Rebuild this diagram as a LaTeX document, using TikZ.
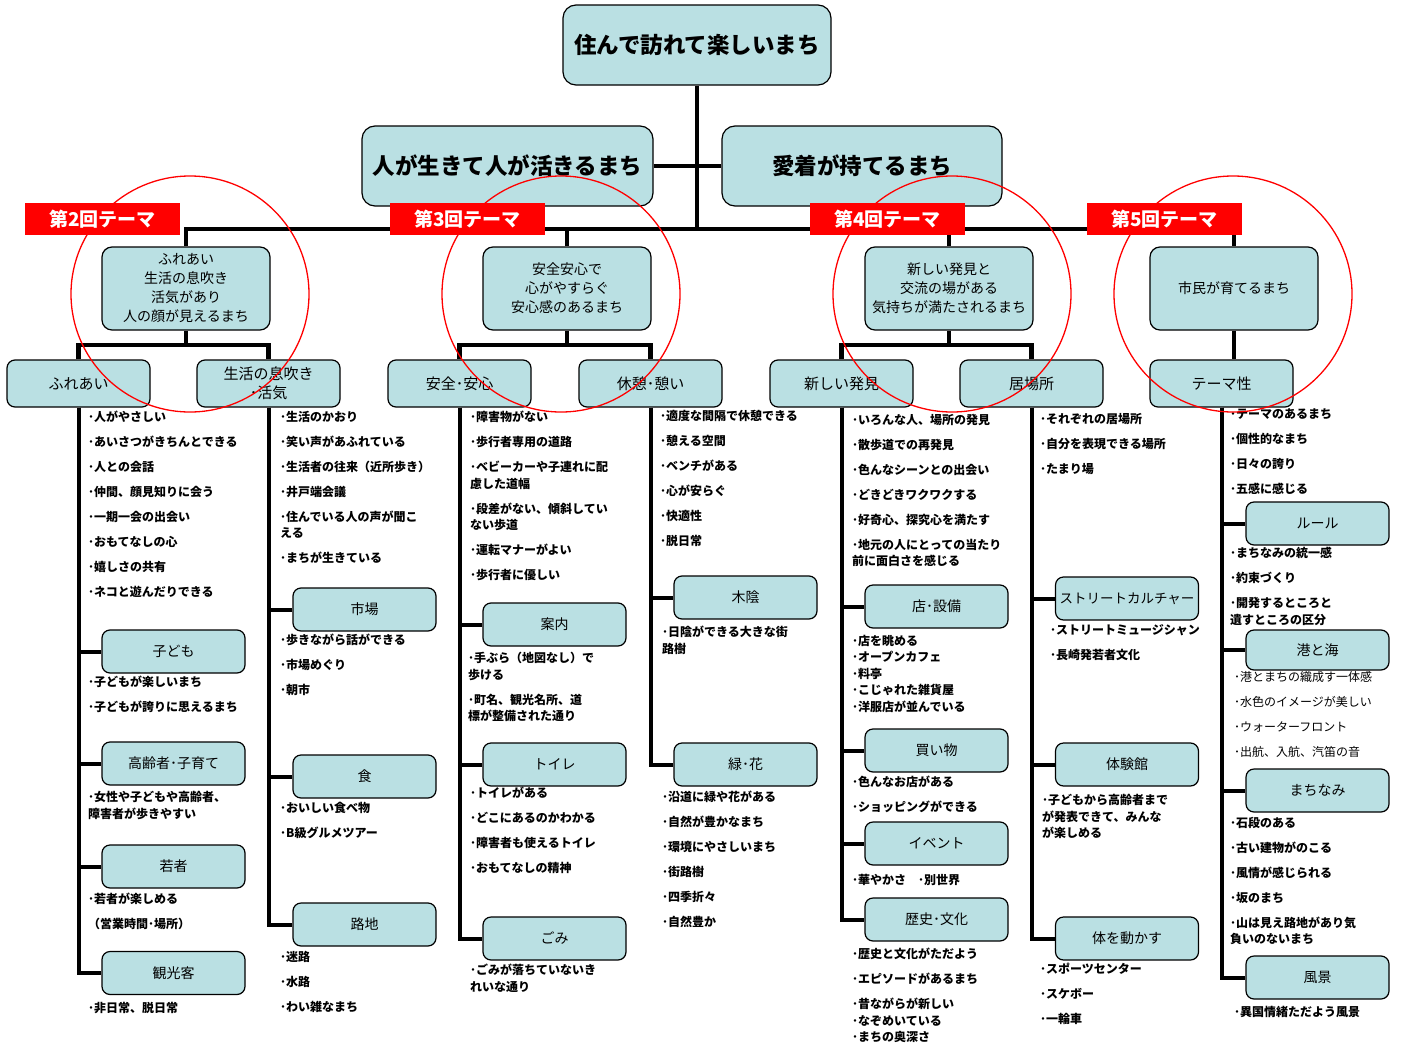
\documentclass[tikz,border=0pt]{standalone}
\usepackage{fontspec}
\setmainfont{Noto Sans CJK JP}
\definecolor{boxblue}{RGB}{186,224,227}
\definecolor{themered}{RGB}{255,0,0}
\tikzset{
  elbow/.style={to path={|- (\tikztotarget)}},
  subbox/.style={draw,fill=boxblue,rounded corners=8pt,line width=1.2pt,
    minimum width=143pt,minimum height=43pt,inner sep=1pt,font=\fontsize{14}{17}\selectfont},
  notes/.style={anchor=north west,align=left,inner sep=0pt,
    font=\bfseries\fontsize{12}{16.5}\selectfont},
  ring/.style={draw=themered,line width=1.3pt}
}
\begin{document}
\begin{tikzpicture}[x=1pt,y=-1pt]
  \useasboundingbox (0,0) rectangle (1403,1044);

  \begin{scope}[every node/.style={draw,fill=boxblue,rounded corners=13pt,line width=1.2pt,
      minimum height=80pt,inner sep=2pt,font=\bfseries\fontsize{22.5}{26}\selectfont}]
    \node[minimum width=268pt] (root)  at (697,45)    {住んで訪れて楽しいまち};
    \node[minimum width=291pt] (left)  at (507.5,166) {人が生きて人が活きるまち};
    \node[minimum width=280pt] (right) at (862,166)   {愛着が持てるまち};
  \end{scope}

  \begin{scope}[every node/.style={draw,fill=boxblue,rounded corners=10pt,line width=1.2pt,
      minimum width=168pt,minimum height=83pt,align=center,font=\fontsize{14}{19}\selectfont}]
    \node (th2) at (186,288.5)  {ふれあい\\生活の息吹き\\活気があり\\人の顔が見えるまち};
    \node (th3) at (567,288.5)  {安全安心で\\心がやすらぐ\\安心感のあるまち};
    \node (th4) at (949,288.5)  {新しい発見と\\交流の場がある\\気持ちが満たされるまち};
    \node (th5) at (1234,288.5) {市民が育てるまち};
  \end{scope}

  \begin{scope}[every node/.style={draw,fill=boxblue,rounded corners=8pt,line width=1.2pt,
      minimum width=143pt,minimum height=47pt,align=center,inner sep=1pt,
      font=\fontsize{15}{19}\selectfont}]
    \node (c1) at (78.5,383.5)   {ふれあい};
    \node (c2) at (268.5,383.5)  {生活の息吹き\\･活気};
    \node (c3) at (459.5,383.5)  {安全･安心};
    \node (c4) at (650.5,383.5)  {休憩･憩い};
    \node (c5) at (841.5,383.5)  {新しい発見};
    \node (c6) at (1031.5,383.5) {居場所};
    \node (c7) at (1221.5,383.5) {テーマ性};
  \end{scope}

  \begin{scope}[every node/.style={subbox}]
    \node (s11) at (173.5,651.5) {子ども};
    \node (s12) at (173.5,763.5) {高齢者･子育て};
    \node (s13) at (173.5,866.5) {若者};
    \node (s14) at (173.5,973)   {観光客};
    \node (s21) at (364.5,609.5) {市場};
    \node (s22) at (364.5,776.5) {食};
    \node (s23) at (364.5,924.5) {路地};
    \node (s31) at (554.5,624.5) {案内};
    \node (s32) at (554.5,764.5) {トイレ};
    \node (s33) at (554.5,938.5) {ごみ};
    \node (s41) at (745.5,597.5) {木陰};
    \node (s42) at (745.5,764.5) {緑･花};
    \node (s51) at (936.5,606.5) {店･設備};
    \node (s52) at (936.5,750.5) {買い物};
    \node (s53) at (936.5,843.5) {イベント};
    \node (s54) at (936.5,919.5) {歴史･文化};
    \node[font=\fontsize{13.5}{16}\selectfont] (s61) at (1127,598.5) {ストリートカルチャー};
    \node (s62) at (1127,764.5)  {体験館};
    \node (s63) at (1127,938.5)  {体を動かす};
    \node (s71) at (1317.5,523.5) {ルール};
    \node[minimum height=40pt] (s72) at (1317.5,650) {港と海};
    \node (s73) at (1317.5,790.5) {まちなみ};
    \node (s74) at (1317.5,977.5) {風景};
  \end{scope}

  \coordinate (hub) at (697,229);
  \coordinate (j2) at (186,345);
  \coordinate (j3) at (567,345);
  \coordinate (j4) at (949,345);

  \begin{scope}[line width=4.5pt]
    \draw (root) -- (hub);
    \draw (left) -- (right);
    \draw (th2.north) |- (hub) -| (th5.north);
    \draw (th3.north) -- (th3.north |- hub);
    \draw (th4.north) -- (th4.north |- hub);
    \draw (th2) -- (j2);
    \draw (c1.north) |- (j2) -| (c2.north);
    \draw (th3) -- (j3);
    \draw (c3.north) |- (j3) -| (c4.north);
    \draw (th4) -- (j4);
    \draw (c5.north) |- (j4) -| (c6.north);
    \draw (th5) -- (th5 |- c7.north);
  \end{scope}

  \begin{scope}[every edge/.style={draw,line width=4pt,elbow}]
    \path (c1.south) edge (s11.west) edge (s12.west) edge (s13.west) edge (s14.west);
    \path (c2.south) edge (s21.west) edge (s22.west) edge (s23.west);
    \path (c3.south) edge (s31.west) edge (s32.west) edge (s33.west);
    \path (c4.south) edge (s41.west) edge (s42.west);
    \path (c5.south) edge (s51.west) edge (s52.west) edge (s53.west) edge (s54.west);
    \path (c6.south) edge (s61.west) edge (s62.west) edge (s63.west);
    \path (c7.south) edge (s71.west) edge (s72.west) edge (s73.west) edge (s74.west);
  \end{scope}

  \begin{scope}[every node/.style={notes}]
    \node (g11) at (88,411) {･人がやさしい\\[8.5pt]･あいさつがきちんとできる\\[8.5pt]･人との会話\\[8.5pt]･仲間、顔見知りに会う\\[8.5pt]･一期一会の出会い\\[8.5pt]･おもてなしの心\\[8.5pt]･嬉しさの共有\\[8.5pt]･ネコと遊んだりできる};
    \node (g12) at (88,676) {･子どもが楽しいまち\\[8.5pt]･子どもが誇りに思えるまち};
    \node (g13) at (88,791) {･女性や子どもや高齢者、\\障害者が歩きやすい};
    \node (g14) at (88,893) {･若者が楽しめる\\[8.5pt]（営業時間･場所）};
    \node (g15) at (88,1002) {･非日常、脱日常};

    \node (g21) at (280,411) {･生活のかおり\\[8.5pt]･笑い声があふれている\\[8.5pt]･生活者の往来（近所歩き）\\[8.5pt]･井戸端会議\\[8.5pt]･住んでいる人の声が聞こ\\える\\[8.5pt]･まちが生きている};
    \node (g22) at (280,634) {･歩きながら話ができる\\[8.5pt]･市場めぐり\\[8.5pt]･朝市};
    \node (g23) at (280,802) {･おいしい食べ物\\[8.5pt]･B級グルメツアー};
    \node (g24) at (280,951) {･迷路\\[8.5pt]･水路\\[8.5pt]･わい雑なまち};

    \node (g31) at (470,411) {･障害物がない\\[8.5pt]･歩行者専用の道路\\[8.5pt]･ベビーカーや子連れに配\\慮した道幅\\[8.5pt]･段差がない、傾斜してい\\ない歩道\\[8.5pt]･運転マナーがよい\\[8.5pt]･歩行者に優しい};
    \node (g32) at (468,652) {･手ぶら（地図なし）で\\歩ける\\[8.5pt]･町名、観光名所、道\\標が整備された通り};
    \node (g33) at (470,787) {･トイレがある\\[8.5pt]･どこにあるのかわかる\\[8.5pt]･障害者も使えるトイレ\\[8.5pt]･おもてなしの精神};
    \node (g34) at (470,964) {･ごみが落ちていないき\\れいな通り};

    \node (g41) at (660,410) {･適度な間隔で休憩できる\\[8.5pt]･憩える空間\\[8.5pt]･ベンチがある\\[8.5pt]･心が安らぐ\\[8.5pt]･快適性\\[8.5pt]･脱日常};
    \node (g42) at (662,626) {･日陰ができる大きな街\\路樹};
    \node (g43) at (662,791) {･沿道に緑や花がある\\[8.5pt]･自然が豊かなまち\\[8.5pt]･環境にやさしいまち\\[8.5pt]･街路樹\\[8.5pt]･四季折々\\[8.5pt]･自然豊か};

    \node (g51) at (852,414) {･いろんな人、場所の発見\\[8.5pt]･散歩道での再発見\\[8.5pt]･色んなシーンとの出会い\\[8.5pt]･どきどきワクワクする\\[8.5pt]･好奇心、探究心を満たす\\[8.5pt]･地元の人にとっての当たり\\前に面白さを感じる};
    \node (g52) at (852,635) {･店を眺める\\･オープンカフェ\\･料亭\\･こじゃれた雑貨屋\\･洋服店が並んでいる};
    \node (g53) at (852,776) {･色んなお店がある\\[8.5pt]･ショッピングができる};
    \node (g54) at (852,874) {･華やかさ　･別世界};
    \node (g55) at (852,948) {･歴史と文化がただよう\\[8.5pt]･エピソードがあるまち\\[8.5pt]･昔ながらが新しい\\･なぞめいている\\･まちの奥深さ};

    \node (g61) at (1040,413) {･それぞれの居場所\\[8.5pt]･自分を表現できる場所\\[8.5pt]･たまり場};
    \node (g62) at (1050,624) {･ストリートミュージシャン\\[8.5pt]･長崎発若者文化};
    \node (g63) at (1042,794) {･子どもから高齢者まで\\が発表できて、みんな\\が楽しめる};
    \node (g64) at (1040,963) {･スポーツセンター\\[8.5pt]･スケボー\\[8.5pt]･一輪車};

    \node (g71) at (1230,408) {･テーマのあるまち\\[8.5pt]･個性的なまち\\[8.5pt]･日々の誇り\\[8.5pt]･五感に感じる};
    \node (g72) at (1230,547) {･まちなみの統一感\\[8.5pt]･約束づくり\\[8.5pt]･開発するところと\\遺すところの区分};
    \node[font=\fontsize{12}{16.5}\selectfont] (g73) at (1234,671) {･港とまちの織成す一体感\\[8.5pt]･水色のイメージが美しい\\[8.5pt]･ウォーターフロント\\[8.5pt]･出航、入航、汽笛の音};
    \node (g74) at (1230,817) {･石段のある\\[8.5pt]･古い建物がのこる\\[8.5pt]･風情が感じられる\\[8.5pt]･坂のまち\\[8.5pt]･山は見え路地があり気\\負いのないまち};
    \node (g75) at (1234,1006) {･異国情緒ただよう風景};
  \end{scope}

  \draw[ring] (190,294)  ellipse (119 and 118);
  \draw[ring] (561,294)  ellipse (119 and 118);
  \draw[ring] (952,294)  ellipse (119 and 118);
  \draw[ring] (1233,294) ellipse (119 and 118);

  \begin{scope}[every node/.style={fill=themered,text=white,minimum width=155pt,minimum height=32pt,
      inner sep=0pt,font=\bfseries\fontsize{19}{22}\selectfont}]
    \node (r2) at (102.5,219)  {第2回テーマ};
    \node (r3) at (467.5,219)  {第3回テーマ};
    \node (r4) at (887.5,219)  {第4回テーマ};
    \node (r5) at (1164.5,219) {第5回テーマ};
  \end{scope}

\end{tikzpicture}
\end{document}
